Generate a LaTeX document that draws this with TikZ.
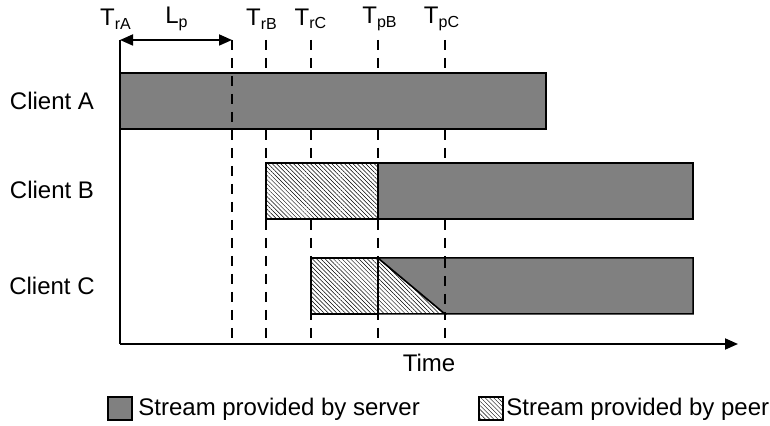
\documentclass[tikz,border=0pt]{standalone}
\usepackage{fontspec}
\setmainfont{Liberation Sans}
\usetikzlibrary{patterns.meta,arrows.meta}

\begin{document}
\begin{tikzpicture}[x=0.5pt,y=-0.5pt,
    font=\fontsize{12pt}{14pt}\selectfont,
    server/.style={draw=black,line width=0.75pt,fill=gray},
    peer/.style={draw=black,line width=0.75pt,preaction={fill=white},
        pattern={Lines[angle=-45,distance=1.5pt,line width=0.25pt]}},
    guide/.style={black,line width=0.6pt,dash pattern=on 5pt off 4pt}]
    \useasboundingbox (0,0) rectangle (770,426);

    % time marks
    \coordinate (rA) at (120,40);
    \coordinate (lp) at (232,40);
    \coordinate (rB) at (266,40);
    \coordinate (rC) at (311,40);
    \coordinate (pB) at (378,40);
    \coordinate (pC) at (445,40);
    \coordinate (origin) at (120,344);
    \coordinate (tend) at (738,344);

    \draw [guide] (rB)--(rB|-origin);
    \draw [guide] (rC)--(rC|-origin);
    \draw [guide] (pB)--(pB|-origin);
    \draw [guide] (pC)--(pC|-origin);

    % client A
    \draw [server] (120,73) rectangle (546,129);
    % client B
    \draw [peer] (266,163) rectangle (378,219);
    \draw [server] (378,163) rectangle (693,219);
    % client C
    \draw [peer] (311,258) rectangle (378,314);
    \draw [peer] (378,258)--(445,314)--(378,314)--cycle;
    \draw [server] (378,258)--(693,258)--(693,314)--(445,314)--cycle;

    \draw [guide] (lp)--(lp|-origin);
    \draw [guide] (pC|-0,258)--(pC|-0,314);

    \draw [line width=0.9pt] (rA)--(origin);
    \draw [-{Triangle[length=6.5pt,width=5.5pt]},line width=0.9pt] (origin)--(tend);
    \draw [{Triangle[length=6.5pt,width=5.5pt]}-{Triangle[length=6.5pt,width=5.5pt]},line width=0.9pt] (rA)--(lp);

    \node (tra) at (116,19) {T\textsubscript{rA}};
    \node (lpl) at (177,19) {L\textsubscript{p}};
    \node (trb) at (262,19) {T\textsubscript{rB}};
    \node (trc) at (311,19) {T\textsubscript{rC}};
    \node (tpb) at (380,19) {T\textsubscript{pB}};
    \node (tpc) at (442,19) {T\textsubscript{pC}};

    \node (clientA) at (52,101) {Client A};
    \node (clientB) at (52,190) {Client B};
    \node (clientC) at (52,286) {Client C};
    \node (time) at (429,363) {Time};

    % legend
    \draw [draw=black,line width=0.6pt,fill=gray] (108,397) rectangle (132,420);
    \node [anchor=west,inner sep=0pt] (lserver) at (138,409) {Stream provided by server};
    \draw [peer,line width=0.6pt] (479,397) rectangle (503,420);
    \node [anchor=west,inner sep=0pt] (lpeer) at (506,409) {Stream provided by peer};
\end{tikzpicture}
\end{document}
